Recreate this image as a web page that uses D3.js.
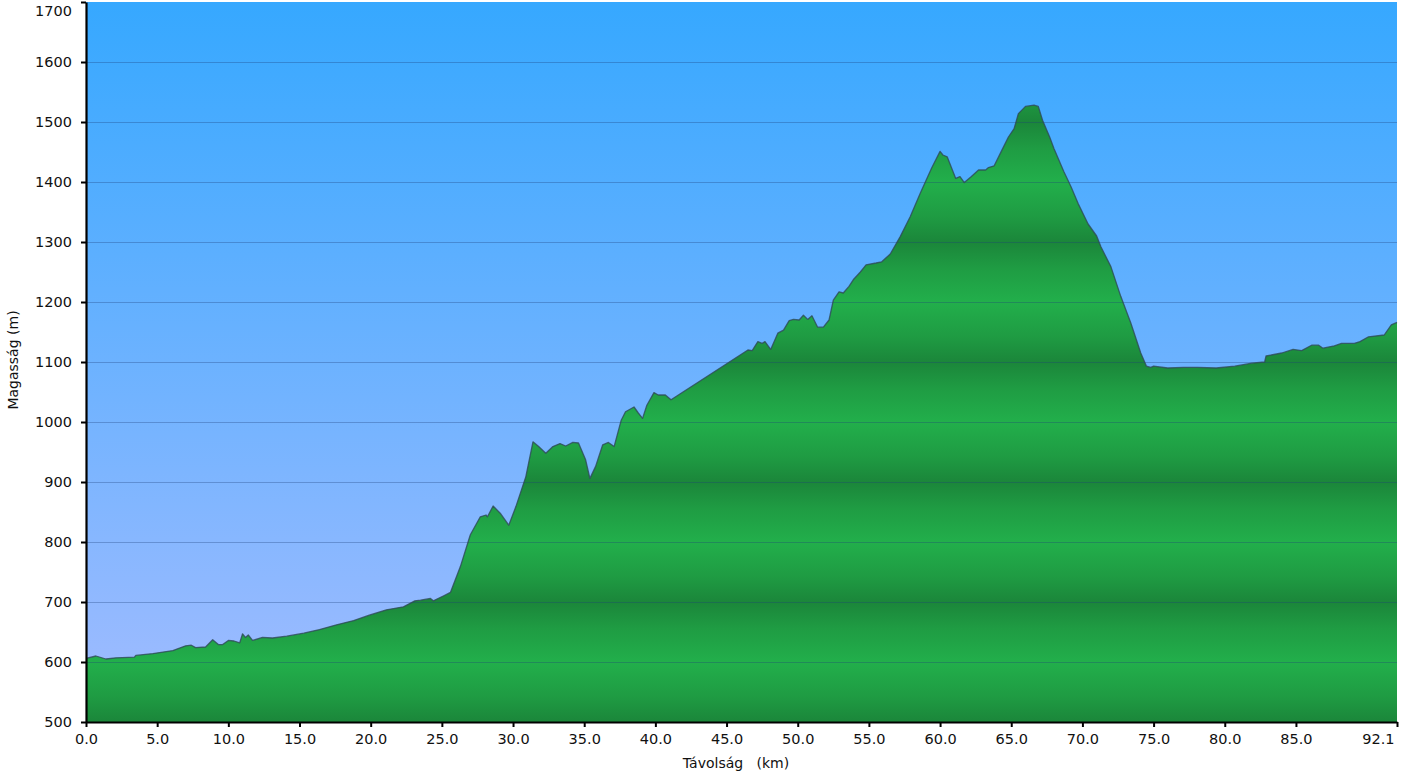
<!DOCTYPE html>
<html><head><meta charset="utf-8">
<script src="https://cdn.jsdelivr.net/npm/d3@7"></script>
<style>body{margin:0;background:#fff}svg{display:block}text{font-family:"DejaVu Sans",Verdana,sans-serif}</style>
</head><body><svg id="c" width="1402" height="778"></svg>
<script>
const distKm = [0.0,0.7,1.4,2.1,3.4,3.5,4.7,6.1,7.0,7.4,7.7,8.4,8.9,9.3,9.6,10.0,10.4,10.8,11.0,11.2,11.4,11.7,12.4,13.1,14.1,15.3,16.4,17.6,18.8,19.9,21.1,22.3,23.1,23.5,24.2,24.4,25.1,25.6,26.3,27.0,27.7,28.1,28.2,28.6,29.1,29.7,30.2,30.9,31.4,31.8,32.3,32.8,33.3,33.7,34.2,34.6,35.1,35.4,35.8,36.3,36.7,37.1,37.6,37.9,38.5,38.8,39.1,39.4,39.9,40.2,40.7,41.1,46.5,46.8,47.2,47.5,47.7,48.1,48.6,49.0,49.4,49.7,50.1,50.4,50.7,51.0,51.4,51.8,52.2,52.5,52.9,53.2,53.6,53.9,54.4,54.8,55.5,55.9,56.5,57.2,57.9,58.6,59.4,59.7,60.0,60.2,60.5,61.1,61.4,61.7,62.2,62.7,63.2,63.4,63.8,64.3,64.8,65.2,65.5,66.0,66.6,66.9,67.2,67.7,68.0,68.7,69.2,69.7,70.4,71.0,71.3,72.0,72.7,73.4,74.1,74.5,74.8,75.0,76.0,77.1,78.1,79.4,80.7,81.9,82.8,82.9,84.0,84.8,85.4,86.1,86.6,86.9,87.7,88.2,89.1,89.5,90.1,91.2,91.7,92.1];
const elevM = [606,610,605,607,608,611,614,619,627,628,624,625,637,629,629,636,635,632,647,641,645,636,641,640,643,648,654,662,669,678,687,692,702,703,706,702,710,716,759,812,842,845,842,860,848,828,859,909,967,959,948,959,964,960,966,965,937,906,926,962,966,959,1003,1017,1025,1015,1006,1028,1049,1045,1045,1037,1120,1119,1134,1131,1134,1121,1148,1153,1169,1171,1170,1178,1171,1177,1158,1158,1170,1203,1217,1215,1226,1237,1250,1262,1265,1267,1280,1309,1342,1381,1423,1437,1451,1445,1442,1406,1409,1399,1409,1420,1420,1424,1427,1451,1475,1489,1514,1526,1528,1526,1503,1475,1456,1417,1392,1364,1330,1310,1292,1259,1209,1165,1115,1093,1091,1093,1090,1091,1091,1090,1093,1098,1100,1110,1115,1121,1119,1128,1128,1123,1127,1131,1131,1134,1142,1145,1162,1166];
const xTicks = [0,5,10,15,20,25,30,35,40,45,50,55,60,65,70,75,80,85,92.1];
const yTicks = [500,600,700,800,900,1000,1100,1200,1300,1400,1500,1600,1700];
const xTitle = "Távolság   (km)";
const yTitle = "Magasság (m)";

const L = 86, R = 1397, T = 2, B = 722;
const svg = d3.select("#c");
const x = d3.scaleLinear().domain([0, 92.1]).range([L, R]);
const y = d3.scaleLinear().domain([500, 1700]).range([B, T]);
const data = distKm.map((d, i) => ({d, e: elevM[i]}));

const defs = svg.append("defs");
const sky = defs.append("linearGradient").attr("id","sky")
  .attr("gradientUnits","userSpaceOnUse").attr("x1",0).attr("y1",T).attr("x2",0).attr("y2",B);
sky.append("stop").attr("offset",0).attr("stop-color","#36a8ff");
sky.append("stop").attr("offset",0.5).attr("stop-color","#6cb2ff");
sky.append("stop").attr("offset",1).attr("stop-color","#a3bcff");

const band = defs.append("linearGradient").attr("id","band")
  .attr("gradientUnits","userSpaceOnUse").attr("spreadMethod","repeat")
  .attr("x1",0).attr("y1",y(1700)).attr("x2",0).attr("y2",y(1500));
[[0,"#1b863a"],[0.22,"#1f9c43"],[0.5,"#22af4b"],[0.78,"#1f9c43"],[1,"#1b863a"]]
  .forEach(([o,c]) => band.append("stop").attr("offset",o).attr("stop-color",c));

svg.append("rect").attr("x",L).attr("y",T).attr("width",R-L).attr("height",B-T).attr("fill","url(#sky)");

const area = d3.area().x(d => x(d.d)).y0(B).y1(d => y(d.e)).curve(d3.curveLinear);
const line = d3.line().x(d => x(d.d)).y(d => y(d.e)).curve(d3.curveLinear);
svg.append("path").datum(data).attr("d", area).attr("fill","url(#band)");

// grid lines
svg.append("g").selectAll("line").data(yTicks.filter(v => v > 500 && v < 1700)).join("line")
  .attr("x1",L).attr("x2",R).attr("y1",d => y(d)+0.5).attr("y2",d => y(d)+0.5)
  .attr("stroke","#1b3f7a").attr("stroke-opacity",0.32).attr("stroke-width",1);

svg.append("path").datum(data).attr("d", line).attr("fill","none")
  .attr("stroke","#2e4a58").attr("stroke-opacity",0.8).attr("stroke-width",1.3)
  .attr("stroke-linejoin","round");

// axes
const ya = svg.append("g").attr("transform",`translate(${L},0)`)
  .call(d3.axisLeft(y).tickValues(yTicks).tickFormat(d3.format("d")).tickSize(5).tickSizeOuter(0).tickPadding(9));
const xa = svg.append("g").attr("transform",`translate(0,${B})`)
  .call(d3.axisBottom(x).tickValues(xTicks).tickFormat(d3.format(".1f")).tickSize(5).tickSizeOuter(0).tickPadding(7));
[ya, xa].forEach(g => {
  g.select(".domain").attr("stroke","#000").attr("stroke-width",2.2);
  g.selectAll(".tick line").attr("stroke","#000").attr("stroke-width",2);
  g.selectAll(".tick text").attr("fill","#111").attr("font-size",14.5)
    .attr("font-family","'DejaVu Sans',Verdana,sans-serif");
});
// keep the end labels inside the picture
ya.selectAll(".tick").filter(d => d === 1700).select("text").attr("dy","0.95em");
xa.selectAll(".tick").filter(d => d === 92.1).select("text").attr("text-anchor","end").attr("x",-3);

svg.append("text").attr("x",736).attr("y",768).attr("text-anchor","middle")
  .attr("font-size",14).attr("fill","#111").style("white-space","pre").text(xTitle);
svg.append("text").attr("transform","translate(18,360) rotate(-90)").attr("text-anchor","middle")
  .attr("font-size",14).attr("fill","#111").text(yTitle);
</script></body></html>
